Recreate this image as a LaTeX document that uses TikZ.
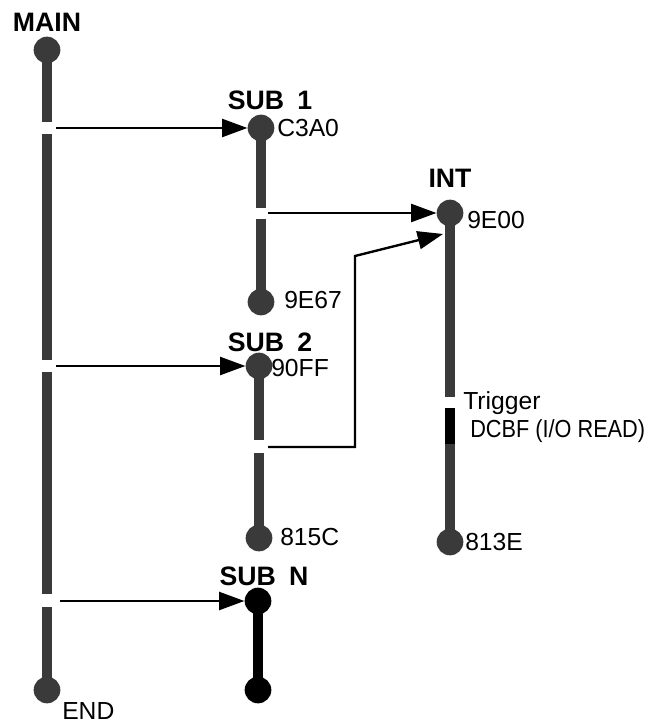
\documentclass[tikz,border=0pt]{standalone}
\usepackage{fontspec}
\setmainfont{Liberation Sans}
\usetikzlibrary{arrows.meta, positioning, calc}
\definecolor{bargray}{RGB}{58,58,58}

\begin{document}
\begin{tikzpicture}[x=0.75pt, y=-0.75pt,
  dot/.style={circle, fill=bargray, minimum size=20pt, inner sep=0pt},
  bar/.style={line width=7.5pt, bargray},
  call/.style={-{Triangle[length=19pt, width=13.5pt]}, line width=1.8pt},
  title/.style={inner sep=0pt, font=\fontsize{20}{22}\selectfont\bfseries},
  addr/.style={anchor=west, inner sep=0pt, font=\fontsize{18.5}{20}\selectfont}]
  \useasboundingbox (0,0) rectangle (655,723);

  % program bars, broken where a call leaves
  \foreach \x/\ya/\yb in {47/50/122, 47/134/360, 47/372/594, 47/607/690,
                          261/128/208, 261/219/302,
                          259/367/440, 259/453/538,
                          450/212/397, 450/444/542}
    \draw[bar] (\x,\ya) -- (\x,\yb);
  \draw[bar, black] (258,602) -- (258,690);
  \draw[bar, black] (450,408) -- (450,444);

  % entry and exit points
  \node[dot] (main) at (47,50) {};
  \node[dot] (mainend) at (47,690) {};
  \node[dot] (subone) at (261,128) {};
  \node[dot] (suboneend) at (261,302) {};
  \node[dot] (subtwo) at (259,366) {};
  \node[dot] (subtwoend) at (259,538) {};
  \node[dot, fill=black] (subn) at (258,601) {};
  \node[dot, fill=black] (subnend) at (258,690) {};
  \node[dot] (int) at (450,213) {};
  \node[dot] (intend) at (450,542) {};

  % calls
  \coordinate (callone) at (56,128);
  \coordinate (calltwo) at (56,366);
  \coordinate (calln) at (60,601);
  \coordinate (intone) at (268,213);
  \coordinate (inttwo) at (268,447);
  \coordinate (bend) at (355,256);
  \coordinate (intin) at (443,234);
  \draw[call] (callone) -- (subone);
  \draw[call] (calltwo) -- (subtwo);
  \draw[call] (calln) -- (subn);
  \draw[call] (intone) -- (int);
  \draw[call] (inttwo) -| (bend) -- (intin);

  % labels
  \node[title] at (47,22) {MAIN};
  \node[title] at (270,100) {SUB\hspace{0.5em}1};
  \node[title] at (270,342) {SUB\hspace{0.5em}2};
  \node[title] at (264,576) {SUB\hspace{0.5em}N};
  \node[title] at (450,178) {INT};
  \node[addr] at (277,128) {C3A0};
  \node[addr] at (467,220) {9E00};
  \node[addr] at (284,300) {9E67};
  \node[addr] at (271,368) {90FF};
  \node[addr] at (280,537) {815C};
  \node[addr] at (465,542) {813E};
  \node[addr] at (463,403) {Trigger};
  \node[addr] at (470,431) {\scalebox{0.88}[1]{DCBF (I/O READ)}};
  \node[addr] at (62,711) {END};
\end{tikzpicture}
\end{document}
